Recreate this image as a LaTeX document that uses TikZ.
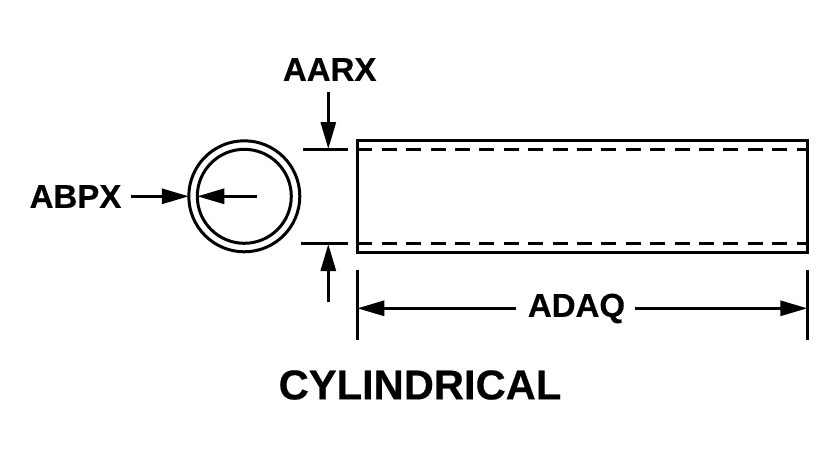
\documentclass[tikz,border=0pt]{standalone}
\usepackage{fontspec}
\setmainfont[BoldFeatures={FakeBold=0.4}]{Liberation Sans}
\usetikzlibrary{arrows.meta}
\tikzset{
  x=1pt,y=-1pt,
  ink/.style={line width=3pt,black},
  dim/.style={ink,-{Triangle[length=27pt,width=15pt]}},
  hidden/.style={ink,dash pattern=on 15pt off 9.4pt},
  lbl/.style={font=\fontsize{33}{33}\selectfont\bfseries,inner sep=0pt,anchor=center},
  ttl/.style={font=\fontsize{41.7}{41.7}\selectfont\bfseries,inner sep=0pt,anchor=center},
  ring/.style={ink,circle,draw,inner sep=0pt,outer sep=0pt},
  tube/.style={ink,rectangle,draw,inner sep=0pt,outer sep=0pt,minimum width=450pt,minimum height=112pt}
}
\begin{document}
\begin{tikzpicture}
\useasboundingbox[fill=white] (0,0) rectangle (840,450);
% end view
\node[ring,minimum size=111pt] (outer) at (244.3,196.3) {};
\node[ring,minimum size=94pt] (inner) at (244.3,196.3) {};
% side view
\node[tube] (body) at (582.3,196.5) {};
\coordinate (dtl) at (357.3,149.3);
\coordinate (dtr) at (807.3,149.3);
\coordinate (dbl) at (357.3,243.3);
\coordinate (dbr) at (807.3,243.3);
\draw[hidden] (dtl) -- (dtr);
\draw[hidden] (dbl) -- (dbr);
% labels
\node[lbl] (aarx) at (329.7,69.5) {AARX};
\node[lbl] (abpx) at (75.5,196.5) {ABPX};
\node[lbl] (adaq) at (576.5,308.5) {ADAQ};
\node[ttl] (title) at (420,385) {CYLINDRICAL};
% height extension lines and arrows
\coordinate (etl) at (303,149.3);
\coordinate (etr) at (347.7,149.3);
\coordinate (ebl) at (301,243.3);
\coordinate (ebr) at (347.7,243.3);
\draw[ink] (etl) -- (etr);
\draw[ink] (ebl) -- (ebr);
\coordinate (ts) at (328.3,91.7);
\coordinate (te) at (328.3,149);
\coordinate (bs) at (328.3,301.7);
\coordinate (be) at (328.3,244);
\draw[dim] (ts) -- (te);
\draw[dim] (bs) -- (be);
% bore arrows
\coordinate (ls) at (131,196.3);
\coordinate (rs) at (256.7,196.3);
\draw[dim] (ls) -- (outer.west);
\draw[dim] (rs) -- (inner.west);
% length dimension
\coordinate (l1) at (357.3,270);
\coordinate (l2) at (357.3,340);
\coordinate (r1) at (807.3,270);
\coordinate (r2) at (807.3,340);
\draw[ink] (l1) -- (l2);
\draw[ink] (r1) -- (r2);
\coordinate (la) at (357.3,308.3);
\coordinate (ra) at (807.3,308.3);
\coordinate (lb) at (516,308.3);
\coordinate (rb) at (635,308.3);
\draw[dim] (lb) -- (la);
\draw[dim] (rb) -- (ra);
\end{tikzpicture}
\end{document}
